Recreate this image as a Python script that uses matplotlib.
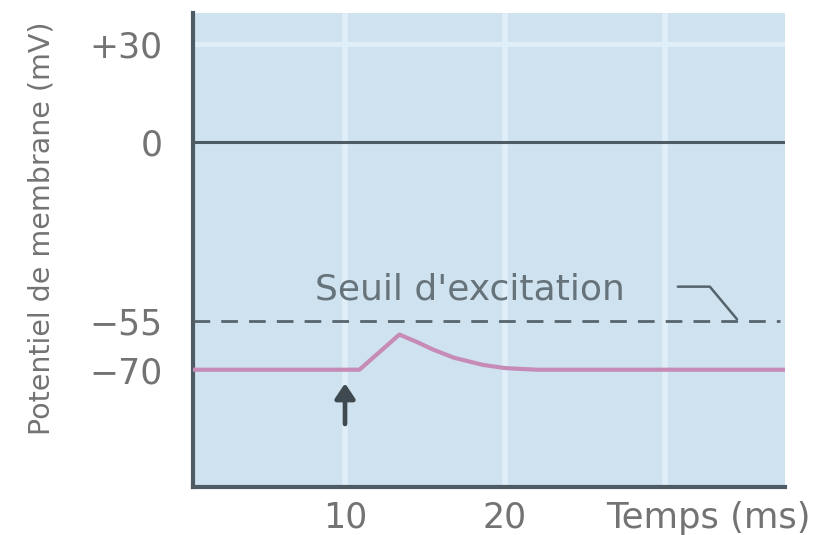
import matplotlib
matplotlib.use("Agg")
import matplotlib.pyplot as plt

plt.rcParams['font.family'] = ['DejaVu Sans']

# Membrane potential trace (ms, mV)
time_ms = [0.5, 10.9, 13.4, 14.5, 15.5, 16.8, 18.6, 20.0, 22.0, 37.5]
potential_mv = [-70, -70, -59.2, -61.5, -63.8, -66.3, -68.5, -69.5, -70, -70]

threshold_mv = -55
resting_mv = -70
stimulus_ms = 10

y_ticks = [30, 0, -55, -70]
y_tick_labels = ['+30', '0', '\u221255', '\u221270']
x_ticks = [10, 20]
x_tick_labels = ['10', '20']
grid_x = [10, 20, 30]
grid_y = [30]

ink = '#4d5c64'
label_grey = '#737373'
trace_pink = '#c68bb6'

fig = plt.figure(figsize=(8.13, 5.35), dpi=100)
fig.patch.set_facecolor('white')
ax = fig.add_axes([0.2374, 0.0897, 0.7282, 0.8860])
ax.set_facecolor('#cfe2ef')
ax.set_xlim(0.5, 37.5)
ax.set_ylim(-106, 39.5)

# faint white grid lines
for gx in grid_x:
    ax.axvline(gx, color='#e0eef8', lw=4, zorder=1)
for gy in grid_y:
    ax.axhline(gy, color='#e0eef8', lw=3.5, zorder=1)

# zero line
ax.axhline(0, color=ink, lw=2.2, zorder=2)

# threshold (dashed)
ax.plot([0.5, 37.2], [threshold_mv, threshold_mv], color='#56656d', lw=2.0,
        dashes=(6, 4), zorder=3)

# membrane potential trace
ax.plot(time_ms, potential_mv, color=trace_pink, lw=3.0, zorder=4,
        solid_joinstyle='round')

# stimulus arrow
ax.annotate('', xy=(stimulus_ms, resting_mv - 3.3), xytext=(stimulus_ms, resting_mv - 17.5),
            arrowprops=dict(arrowstyle='-|>,head_width=0.6,head_length=0.9',
                            color='#3f4a50', lw=3.4), zorder=5)

# threshold label with leader line
ax.text(8.1, -45.3, "Seuil d'excitation", fontsize=26, color='#66737a',
        ha='left', va='center', zorder=5)
ax.plot([30.8, 32.8, 34.5], [-44.5, -44.5, -54.5], color='#55646c', lw=1.8,
        zorder=5, solid_capstyle='round')

# axes styling
for side in ('top', 'right'):
    ax.spines[side].set_visible(False)
for side in ('left', 'bottom'):
    ax.spines[side].set_color(ink)
    ax.spines[side].set_linewidth(3.0)

ax.set_yticks(y_ticks)
ax.set_yticklabels(y_tick_labels)
ax.set_xticks(x_ticks)
ax.set_xticklabels(x_tick_labels)
ax.tick_params(length=0, labelsize=25, labelcolor=label_grey, pad=22)
ax.tick_params(axis='x', pad=10)

ax.set_ylabel('Potentiel de membrane (mV)', fontsize=20.5, color=label_grey)
ax.yaxis.set_label_coords(-0.233, 0.545)

fig.text(0.997, 0.032, 'Temps (ms)', fontsize=25.5, color=label_grey,
         ha='right', va='center')

fig.savefig('out.png', dpi=100, facecolor=fig.get_facecolor())
